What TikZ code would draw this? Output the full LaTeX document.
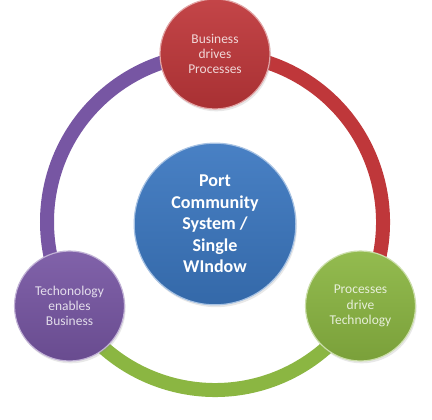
\documentclass[tikz,border=0pt]{standalone}
\usepackage{fontspec}
\setmainfont{Carlito}
\usetikzlibrary{backgrounds,shadows}
\definecolor{pcsred}{HTML}{BF373A}
\definecolor{pcspurple}{HTML}{7756A3}
\definecolor{pcsgreen}{HTML}{8BB642}
\definecolor{pcsblue}{HTML}{3B77C0}
\tikzset{
  ball/.style={circle, inner sep=0pt, align=center, minimum size=3.3cm,
    draw=white!55!#1, line width=1pt, top color=#1!93!white, bottom color=#1!88!black,
    text=white, text opacity=0.8, font=\fontsize{11.5}{13}\selectfont,
    drop shadow={opacity=0.18, shadow xshift=1pt, shadow yshift=-2pt}},
  hubball/.style={ball=#1, minimum size=4.85cm, text opacity=1,
    font=\bfseries\fontsize{15.4}{18.4}\selectfont},
  band/.style={draw=#1, line width=0.42cm},
}
\begin{document}
\begin{tikzpicture}[x=0.03cm, y=0.03cm]
  \useasboundingbox (0,0) rectangle (432,419);
  \coordinate (hub) at (215,197);
  \node[ball=pcsred] (biz) at ([shift={(90:168)}]hub) {Business\\drives\\Processes};
  \node[ball=pcspurple] (tech) at ([shift={(210:168)}]hub) {Techonology\\enables\\Business};
  \node[ball=pcsgreen] (proc) at ([shift={(330:168)}]hub) {Processes\\drive\\Technology};
  \node[hubball=pcsblue] (pcs) at ([shift={(0,-2)}]hub) {Port\\Community\\System /\\Single\\WIndow};
  \begin{scope}[on background layer]
    \draw[band=pcspurple] (biz.center) arc[start angle=90, end angle=210, radius=168];
    \draw[band=pcsgreen] (tech.center) arc[start angle=210, end angle=330, radius=168];
    \draw[band=pcsred] (proc.center) arc[start angle=-30, end angle=90, radius=168];
  \end{scope}
\end{tikzpicture}
\end{document}
